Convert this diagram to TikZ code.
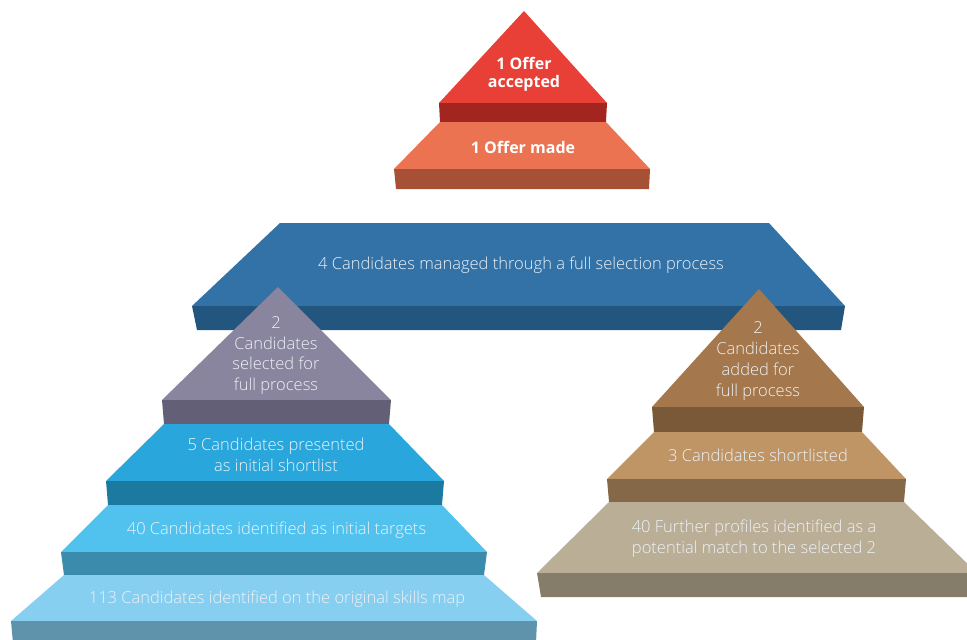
\documentclass[tikz,border=0pt]{standalone}
\usepackage{fontspec}
\setmainfont{Open Sans}
\IfFontExistsTF{Open Sans Light}{\newfontfamily\lightfont{Open Sans Light}}{\newfontfamily\lightfont{Open Sans}}
\definecolor{redtop}{HTML}{E83F36}
\definecolor{redfront}{HTML}{A2261F}
\definecolor{orangetop}{HTML}{EC7352}
\definecolor{orangefront}{HTML}{A65035}
\definecolor{slabtop}{HTML}{3372A7}
\definecolor{slabfront}{HTML}{22567E}
\definecolor{purpletop}{HTML}{89859F}
\definecolor{purplefront}{HTML}{625F76}
\definecolor{bluetop}{HTML}{29A7DD}
\definecolor{bluefront}{HTML}{1C7AA1}
\definecolor{skytop}{HTML}{51C2EE}
\definecolor{skyfront}{HTML}{3B8BAC}
\definecolor{palettop}{HTML}{86CFF0}
\definecolor{palefront}{HTML}{5E93AB}
\definecolor{browntop}{HTML}{A4784C}
\definecolor{brownfront}{HTML}{7A5938}
\definecolor{tantop}{HTML}{BF9565}
\definecolor{tanfront}{HTML}{846848}
\definecolor{greytop}{HTML}{BAAE97}
\definecolor{greyfront}{HTML}{857C69}
\definecolor{txt}{HTML}{EDF2F7}
\tikzset{
  lbl/.style={text=txt, font=\lightfont\fontsize{16.5}{20.8}\selectfont, align=center, inner sep=0pt},
  blbl/.style={text=white, font=\bfseries\fontsize{16}{18.5}\selectfont, align=center, inner sep=0pt}
}
\begin{document}
\begin{tikzpicture}[x=1pt,y=-1pt]
\useasboundingbox (0,0) rectangle (967,640);
% top pyramid
\fill[redtop] (524,11) -- (607,103) -- (439,103) -- cycle;
\fill[redfront] (439,103) -- (607,103) -- (606,122) -- (440,122) -- cycle;
\fill[orangetop] (440,122) -- (606,122) -- (650,169) -- (394,169) -- cycle;
\fill[orangefront] (394,169) -- (650,169) -- (649,189) -- (396,189) -- cycle;
\node[blbl] (offeracc) at (524,74.5) {1 Offer\\accepted};
\node[blbl] (offermade) at (523,147.5) {1 Offer made};
% slab
\fill[slabtop] (280,223) -- (769,223) -- (845,306) -- (192,306) -- cycle;
\fill[slabfront] (192,306) -- (845,306) -- (841,330) -- (197,330) -- cycle;
\node[lbl] (four) at (521,265) {4 Candidates managed through a full selection process};
% left pyramid
\fill[purpletop] (278,287) -- (391,400) -- (162,400) -- cycle;
\fill[purplefront] (162,400) -- (391,400) -- (389,424) -- (164,424) -- cycle;
\fill[bluetop] (164,424) -- (389,424) -- (444,481) -- (106,481) -- cycle;
\fill[bluefront] (106,481) -- (444,481) -- (442,505) -- (108,505) -- cycle;
\fill[skytop] (108,505) -- (442,505) -- (487,552) -- (61,552) -- cycle;
\fill[skyfront] (61,552) -- (487,552) -- (484,575) -- (64,575) -- cycle;
\fill[palettop] (64,575) -- (484,575) -- (537,621) -- (11,621) -- cycle;
\fill[palefront] (11,621) -- (537,621) -- (536,643) -- (13,643) -- cycle;
\node[lbl] (lsel) at (276,355.5) {2\\Candidates\\selected for\\full process};
\node[lbl] (lfive) at (276,455) {5 Candidates presented\\as initial shortlist};
\node[lbl] (lforty) at (276.5,530) {40 Candidates identified as initial targets};
\node[lbl] (lone) at (277,599) {113 Candidates identified on the original skills map};
% right pyramid
\fill[browntop] (759,289) -- (864,407) -- (652,407) -- cycle;
\fill[brownfront] (652,407) -- (864,407) -- (862,432) -- (654,432) -- cycle;
\fill[tantop] (654,432) -- (862,432) -- (906,479) -- (607,479) -- cycle;
\fill[tanfront] (607,479) -- (906,479) -- (904,502) -- (609,502) -- cycle;
\fill[greytop] (609,502) -- (904,502) -- (977,573) -- (537,573) -- cycle;
\fill[greyfront] (537,573) -- (977,573) -- (974,597) -- (541,597) -- cycle;
\node[lbl] (radd) at (758,361) {2\\Candidates\\added for\\full process};
\node[lbl] (rthree) at (758,455.5) {3 Candidates shortlisted};
\node[lbl] (rforty) at (754,539) {40 Further profiles identified as a\\potential match to the selected 2};
\end{tikzpicture}
\end{document}
